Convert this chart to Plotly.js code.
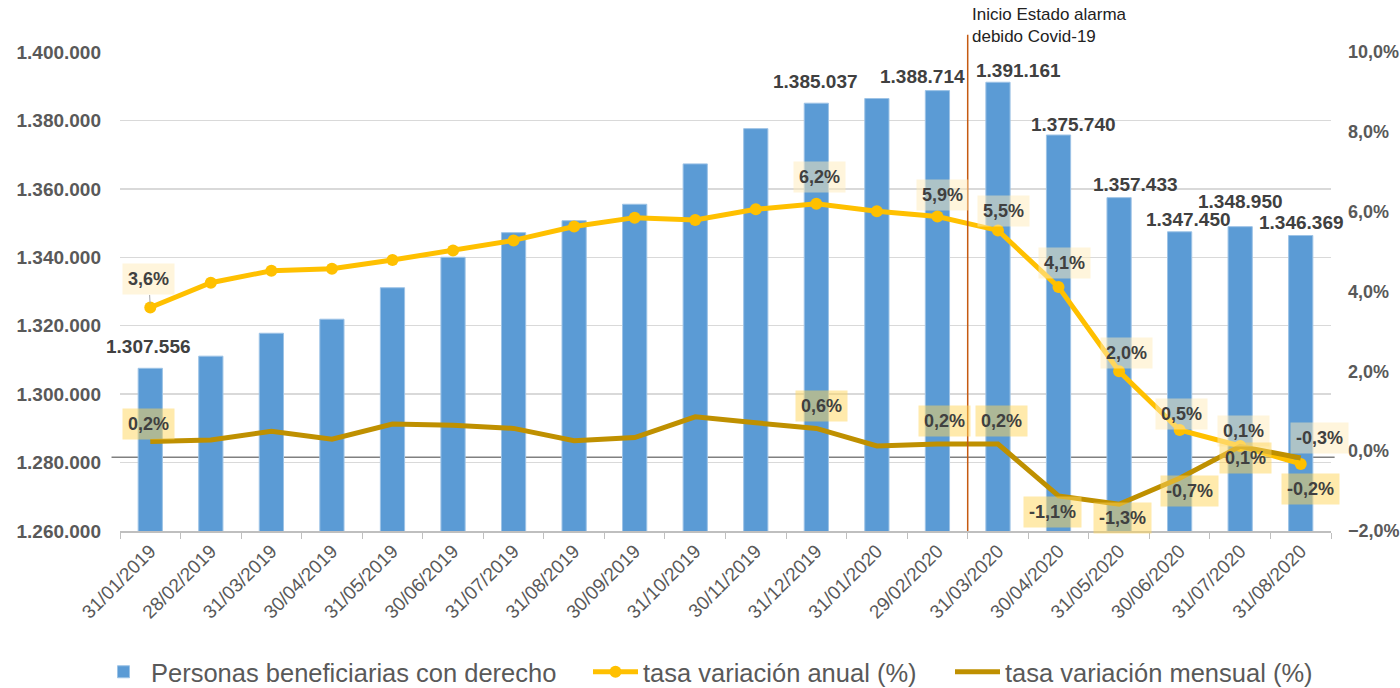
<!DOCTYPE html>
<html>
<head>
<meta charset="utf-8">
<script src="https://cdn.plot.ly/plotly-3.0.1.min.js"></script>
<style>html,body{margin:0;padding:0;background:#fff;}#chart{width:1400px;height:688px;}</style>
</head>
<body>
<div id="chart"></div>
<script>
const categories = ['31/01/2019','28/02/2019','31/03/2019','30/04/2019','31/05/2019','30/06/2019','31/07/2019','31/08/2019','30/09/2019','31/10/2019','30/11/2019','31/12/2019','31/01/2020','29/02/2020','31/03/2020','30/04/2020','31/05/2020','30/06/2020','31/07/2020','31/08/2020'];
const beneficiarios = [1307556,1311100,1317800,1321900,1331100,1340000,1347200,1350700,1355500,1367300,1377600,1385037,1386400,1388714,1391161,1375740,1357433,1347450,1348950,1346369];
const tasaAnual = [3.6,4.22,4.52,4.57,4.79,5.03,5.28,5.63,5.85,5.79,6.06,6.2,6.01,5.88,5.53,4.11,2.0,0.53,0.13,-0.32];
const tasaMensual = [0.24,0.28,0.5,0.3,0.68,0.65,0.57,0.26,0.34,0.86,0.71,0.57,0.13,0.18,0.18,-1.12,-1.33,-0.68,0.12,-0.17];
const seriesNames = ['Personas beneficiarias con derecho','tasa variación anual (%)','tasa variación mensual (%)'];
const labelIdx = [0,11,13,14,15,16,17,18,19];
const eventText = 'Inicio Estado alarma<br>debido Covid-19';

// label offsets (style only, px)
const barLblDx = [-2,-1,-15,21,15,16,9,0,1];
const barLblDy = [22,22,14,12,11,13,12,25,13];
const anuLblDx = [-1.5,3,5.5,6,6,7,2,3,19];
const anuLblDy = [28,27,21,19,24,18,16,15,26];
const menLblDx = [-2,5,7,4,-6,3,10,5,10];
const menLblDy = [18,22,23,23,-16,-13.5,-13,-12,-31];

const fmtInt = v => String(Math.round(v)).replace(/\B(?=(\d{3})+(?!\d))/g,'.');
const fmtPct = v => v.toFixed(1).replace('.',',') + '%';

const FONT = 'Liberation Sans, Arial, sans-serif';
const traces = [
  {type:'bar', x:categories, y:beneficiarios, name:seriesNames[0], yaxis:'y', legend:'legend',
   marker:{color:'#5B9BD5', line:{color:'#9DC3E6', width:1}}},
  {type:'scatter', mode:'lines+markers', x:categories, y:tasaAnual, name:seriesNames[1], yaxis:'y2', legend:'legend2',
   line:{color:'#FFC000', width:5}, marker:{color:'#FFC000', size:12}},
  {type:'scatter', mode:'lines', x:categories, y:tasaMensual, name:seriesNames[2], yaxis:'y2', legend:'legend3',
   line:{color:'#BF9000', width:5}}
];

const annotations = [];
labelIdx.forEach((i,k) => {
  annotations.push({x:categories[i], y:beneficiarios[i], xref:'x', yref:'y', text:fmtInt(beneficiarios[i]),
    showarrow:false, xshift:barLblDx[k], yshift:barLblDy[k], yanchor:'middle',
    font:{family:FONT, size:19, color:'#404040', weight:'bold'}});
  const anu = {x:categories[i], y:tasaAnual[i], xref:'x', yref:'y2', text:fmtPct(tasaAnual[i]),
    bgcolor:'rgba(255,236,186,0.5)', borderpad:5,
    font:{family:FONT, size:18, color:'#404040', weight:'bold'}};
  if (k === 0) {
    Object.assign(anu, {showarrow:true, arrowhead:0, arrowwidth:1, arrowcolor:'#A6A6A6', ax:anuLblDx[k], ay:-anuLblDy[k], standoff:4});
  } else {
    Object.assign(anu, {showarrow:false, xshift:anuLblDx[k], yshift:anuLblDy[k], yanchor:'middle'});
  }
  annotations.push(anu);
  annotations.push({x:categories[i], y:tasaMensual[i], xref:'x', yref:'y2', text:fmtPct(tasaMensual[i]),
    showarrow:false, xshift:menLblDx[k], yshift:menLblDy[k], yanchor:'middle',
    bgcolor:'rgba(255,213,90,0.5)', borderpad:5,
    font:{family:FONT, size:18, color:'#404040', weight:'bold'}});
});
annotations.push({x:13.5, y:1.0, xref:'x', yref:'paper', text:eventText, showarrow:false,
  xanchor:'left', yanchor:'bottom', align:'left', xshift:2, yshift:4,
  font:{family:FONT, size:17, color:'#222222'}});

const legendBase = {orientation:'h', xref:'container', yref:'container', xanchor:'left', y:0.023, yanchor:'middle',
  font:{family:FONT, size:25.5, color:'#595959'}, itemwidth:45, bgcolor:'rgba(0,0,0,0)'};

const layout = {
  width:1400, height:688,
  margin:{l:120, r:69, t:52, b:157, pad:0, autoexpand:false},
  paper_bgcolor:'#ffffff', plot_bgcolor:'#ffffff',
  separators:',.',
  font:{family:FONT, color:'#595959'},
  bargap:0.6,
  showlegend:true,
  legend:Object.assign({}, legendBase, {x:96/1400}),
  legend2:Object.assign({}, legendBase, {x:588/1400}),
  legend3:Object.assign({}, legendBase, {x:950/1400}),
  xaxis:{type:'category', range:[-0.5,19.5], automargin:false, tickangle:-45, tickson:'boundaries', ticks:'outside', ticklen:6,
    tickcolor:'#BFBFBF', showline:true, linecolor:'#BFBFBF', linewidth:1.5, showgrid:false,
    tickfont:{family:FONT, size:19, color:'#595959'}},
  yaxis:{range:[1260000,1400000], dtick:20000, tickformat:',d', automargin:false, showgrid:true, gridcolor:'#D9D9D9',
    gridwidth:1.5, zeroline:false, showline:false, ticks:'', ticklabelstandoff:18,
    tickfont:{family:FONT, size:19, color:'#595959', weight:'bold'}},
  yaxis2:{overlaying:'y', side:'right', range:[-2,10], dtick:2, tickformat:'.1f', ticksuffix:'%', automargin:false,
    showgrid:false, zeroline:false, showline:false, ticks:'', ticklabelstandoff:16,
    tickfont:{family:FONT, size:18, color:'#595959', weight:'bold'}},
  shapes:[
    {type:'line', xref:'paper', yref:'y2', x0:-0.007, x1:1.003, y0:-0.15, y1:-0.15,
     line:{color:'#808080', width:1.5}, layer:'below'},
    {type:'line', xref:'x', yref:'paper', x0:13.5, x1:13.5, y0:0, y1:1.036,
     line:{color:'#C55A11', width:1.5}}
  ],
  annotations:annotations
};

Plotly.newPlot('chart', traces, layout, {displayModeBar:false, staticPlot:true});
</script>
</body>
</html>
